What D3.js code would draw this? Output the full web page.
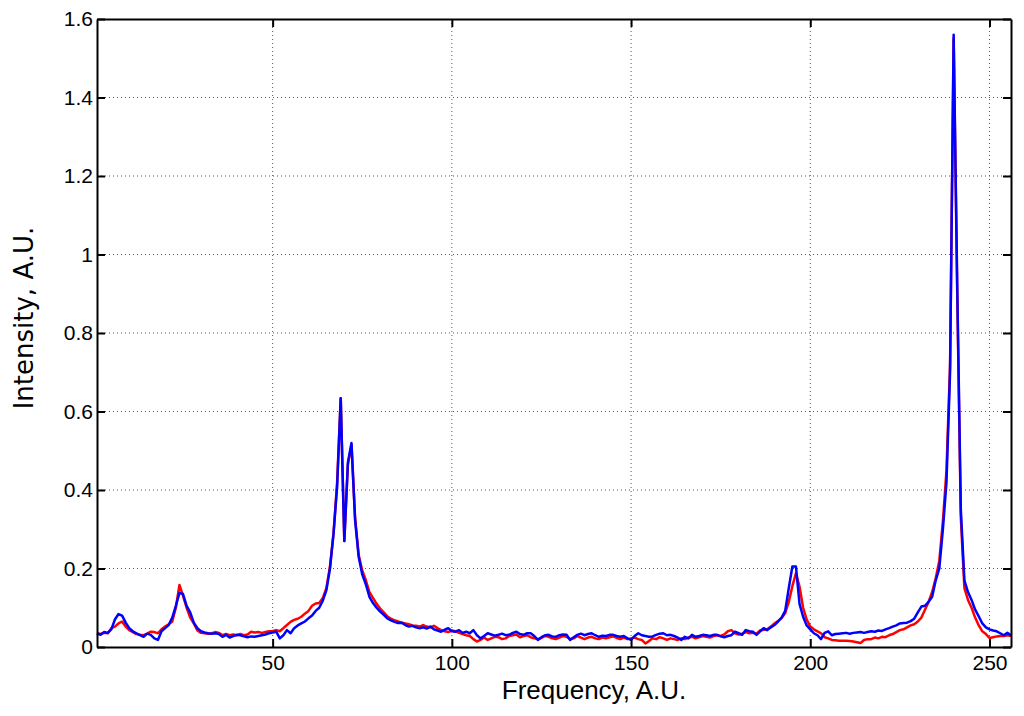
<!DOCTYPE html>
<html>
    <head>
        <title>Spectrum</title>
        <script src="https://d3js.org/d3.v7.min.js"></script>
        <style>
            body { margin: 0; background: #fff; }
            svg { display: block; }
            .tick text { font-family: "Liberation Sans", Arial, sans-serif; font-size: 21px; fill: #000; }
        </style>
    </head>
    <body>
        <script>
            // sample values, x = 1..256
            const red = [
                0.035, 0.033, 0.036, 0.035, 0.048, 0.052, 0.060, 0.065, 0.052, 0.043,
                0.038, 0.033, 0.031, 0.030, 0.034, 0.039, 0.038, 0.035, 0.045, 0.052,
                0.058, 0.065, 0.100, 0.158, 0.130, 0.100, 0.075, 0.060, 0.042, 0.036,
                0.035, 0.034, 0.035, 0.038, 0.036, 0.030, 0.033, 0.030, 0.032, 0.030,
                0.033, 0.030, 0.032, 0.039, 0.037, 0.038, 0.036, 0.038, 0.040, 0.041,
                0.043, 0.040, 0.048, 0.056, 0.064, 0.069, 0.072, 0.077, 0.085, 0.092,
                0.105, 0.111, 0.112, 0.125, 0.150, 0.205, 0.290, 0.420, 0.634, 0.270,
                0.465, 0.515, 0.330, 0.235, 0.195, 0.170, 0.140, 0.125, 0.110, 0.098,
                0.088, 0.078, 0.072, 0.068, 0.065, 0.062, 0.060, 0.058, 0.055, 0.054,
                0.052, 0.056, 0.052, 0.050, 0.054, 0.048, 0.043, 0.040, 0.038, 0.042,
                0.040, 0.036, 0.033, 0.030, 0.028, 0.020, 0.014, 0.018, 0.024, 0.018,
                0.022, 0.026, 0.025, 0.020, 0.022, 0.028, 0.030, 0.032, 0.025, 0.028,
                0.030, 0.025, 0.022, 0.020, 0.023, 0.028, 0.026, 0.022, 0.020, 0.024,
                0.028, 0.026, 0.020, 0.022, 0.028, 0.024, 0.020, 0.024, 0.026, 0.022,
                0.020, 0.024, 0.022, 0.025, 0.027, 0.023, 0.020, 0.024, 0.020, 0.022,
                0.024, 0.020, 0.018, 0.009, 0.015, 0.022, 0.020, 0.025, 0.022, 0.018,
                0.022, 0.020, 0.018, 0.022, 0.020, 0.024, 0.026, 0.022, 0.025, 0.028,
                0.026, 0.024, 0.028, 0.030, 0.028, 0.032, 0.040, 0.043, 0.035, 0.032,
                0.034, 0.038, 0.035, 0.036, 0.034, 0.042, 0.044, 0.045, 0.052, 0.060,
                0.066, 0.074, 0.086, 0.115, 0.155, 0.188, 0.154, 0.100, 0.070, 0.052,
                0.045, 0.040, 0.035, 0.025, 0.022, 0.018, 0.017, 0.016, 0.016, 0.016,
                0.015, 0.014, 0.012, 0.010, 0.018, 0.020, 0.020, 0.024, 0.022, 0.026,
                0.025, 0.030, 0.033, 0.038, 0.043, 0.045, 0.050, 0.055, 0.058, 0.065,
                0.075, 0.095, 0.115, 0.140, 0.175, 0.220, 0.320, 0.450, 0.720, 1.550,
                0.900, 0.330, 0.150, 0.120, 0.100, 0.075, 0.055, 0.040, 0.033, 0.023,
                0.025, 0.027, 0.028, 0.028, 0.030, 0.028
            ]
            const blue = [
                0.035, 0.031, 0.038, 0.036, 0.045, 0.070, 0.084, 0.080, 0.062, 0.048,
                0.040, 0.035, 0.030, 0.026, 0.034, 0.031, 0.022, 0.018, 0.040, 0.048,
                0.056, 0.075, 0.105, 0.138, 0.135, 0.105, 0.088, 0.062, 0.048, 0.040,
                0.037, 0.035, 0.034, 0.035, 0.033, 0.026, 0.031, 0.024, 0.028, 0.031,
                0.030, 0.027, 0.025, 0.027, 0.026, 0.028, 0.030, 0.032, 0.035, 0.037,
                0.039, 0.022, 0.030, 0.043, 0.035, 0.048, 0.055, 0.060, 0.065, 0.073,
                0.080, 0.092, 0.100, 0.118, 0.145, 0.200, 0.290, 0.410, 0.634, 0.270,
                0.470, 0.520, 0.324, 0.230, 0.185, 0.160, 0.128, 0.112, 0.100, 0.090,
                0.082, 0.073, 0.068, 0.064, 0.061, 0.062, 0.056, 0.052, 0.054, 0.050,
                0.048, 0.050, 0.047, 0.052, 0.045, 0.042, 0.039, 0.044, 0.048, 0.040,
                0.039, 0.043, 0.036, 0.039, 0.035, 0.043, 0.030, 0.022, 0.028, 0.035,
                0.032, 0.029, 0.031, 0.034, 0.030, 0.031, 0.036, 0.039, 0.033, 0.031,
                0.035, 0.035, 0.028, 0.018, 0.025, 0.030, 0.031, 0.027, 0.026, 0.030,
                0.032, 0.031, 0.018, 0.025, 0.031, 0.034, 0.030, 0.033, 0.035, 0.030,
                0.026, 0.029, 0.028, 0.031, 0.031, 0.028, 0.026, 0.028, 0.022, 0.018,
                0.028, 0.035, 0.030, 0.028, 0.026, 0.027, 0.031, 0.034, 0.035, 0.030,
                0.031, 0.028, 0.024, 0.018, 0.026, 0.022, 0.031, 0.026, 0.028, 0.031,
                0.030, 0.028, 0.031, 0.031, 0.027, 0.025, 0.028, 0.030, 0.039, 0.035,
                0.031, 0.043, 0.040, 0.039, 0.031, 0.040, 0.048, 0.043, 0.050, 0.056,
                0.065, 0.075, 0.092, 0.150, 0.205, 0.205, 0.110, 0.077, 0.055, 0.045,
                0.035, 0.030, 0.020, 0.036, 0.040, 0.030, 0.033, 0.034, 0.035, 0.036,
                0.034, 0.036, 0.037, 0.038, 0.036, 0.038, 0.040, 0.039, 0.042, 0.041,
                0.045, 0.048, 0.052, 0.055, 0.060, 0.061, 0.062, 0.066, 0.072, 0.088,
                0.103, 0.105, 0.115, 0.128, 0.170, 0.200, 0.300, 0.420, 0.700, 1.560,
                0.920, 0.350, 0.170, 0.140, 0.120, 0.095, 0.078, 0.060, 0.050, 0.045,
                0.042, 0.040, 0.035, 0.030, 0.036, 0.030
            ]
            const xTicks = [50, 100, 150, 200, 250]
            const yTicks = [0, 0.2, 0.4, 0.6, 0.8, 1, 1.2, 1.4, 1.6]

            const margin = { top: 19, right: 13, bottom: 69, left: 97 }
            const W = 1024, H = 716
            const width = W - margin.left - margin.right
            const height = H - margin.top - margin.bottom

            const svg = d3.select('body').append('svg')
                .attr('width', W).attr('height', H)
            const g = svg.append('g')
                .attr('transform', `translate(${margin.left}, ${margin.top})`)

            const xScale = d3.scaleLinear().domain([1, 256]).range([0, width])
            const yScale = d3.scaleLinear().domain([0, 1.6]).range([height, 0])

            // dotted grid
            g.selectAll('.vgrid').data(xTicks).enter()
                .append('line')
                    .attr('x1', d => xScale(d)).attr('x2', d => xScale(d))
                    .attr('y1', 0).attr('y2', height)
                    .attr('stroke', '#555').attr('stroke-width', 1)
                    .attr('stroke-dasharray', '1,3')
            g.selectAll('.hgrid').data(yTicks.slice(1, -1)).enter()
                .append('line')
                    .attr('x1', 0).attr('x2', width)
                    .attr('y1', d => yScale(d)).attr('y2', d => yScale(d))
                    .attr('stroke', '#555').attr('stroke-width', 1)
                    .attr('stroke-dasharray', '1,3')

            const line = d3.line()
                .x((d, i) => xScale(i + 1))
                .y(d => yScale(d))

            g.append('path').datum(red)
                .attr('d', line).attr('fill', 'none')
                .attr('stroke', '#ff0000').attr('stroke-width', 2.5)
                .attr('stroke-linejoin', 'round')
            g.append('path').datum(blue)
                .attr('d', line).attr('fill', 'none')
                .attr('stroke', '#0000ff').attr('stroke-width', 2.5)
                .attr('stroke-linejoin', 'round')

            // axes, ticks pointing inward like MATLAB
            const fmt = d => String(d)
            const xAxis = d3.axisBottom(xScale).tickValues(xTicks).tickSize(-8).tickPadding(8).tickSizeOuter(0)
            const yAxis = d3.axisLeft(yScale).tickValues(yTicks).tickFormat(fmt).tickSize(-8).tickPadding(4).tickSizeOuter(0)
            const xTop = d3.axisTop(xScale).tickValues(xTicks).tickSize(-8).tickFormat('').tickSizeOuter(0)
            const yRight = d3.axisRight(yScale).tickValues(yTicks).tickSize(-8).tickFormat('').tickSizeOuter(0)

            const ax = [
                g.append('g').attr('transform', `translate(0, ${height})`).call(xAxis),
                g.append('g').call(yAxis),
                g.append('g').call(xTop),
                g.append('g').attr('transform', `translate(${width}, 0)`).call(yRight)
            ]
            ax.forEach(a => {
                a.select('.domain').attr('stroke', '#000').attr('stroke-width', 2)
                a.selectAll('.tick line').attr('stroke', '#000').attr('stroke-width', 2)
            })

            svg.append('text')
                .attr('x', 594).attr('y', 699)
                .attr('text-anchor', 'middle')
                .style('font-family', '"Liberation Sans", Arial, sans-serif')
                .style('font-size', '26px')
                .text('Frequency, A.U.')

            svg.append('text')
                .attr('transform', 'translate(33, 318) rotate(-90)')
                .attr('text-anchor', 'middle')
                .style('font-family', '"DejaVu Sans", sans-serif')
                .style('font-size', '26px')
                .text('Intensity, A.U.')
        </script>
    </body>
</html>
